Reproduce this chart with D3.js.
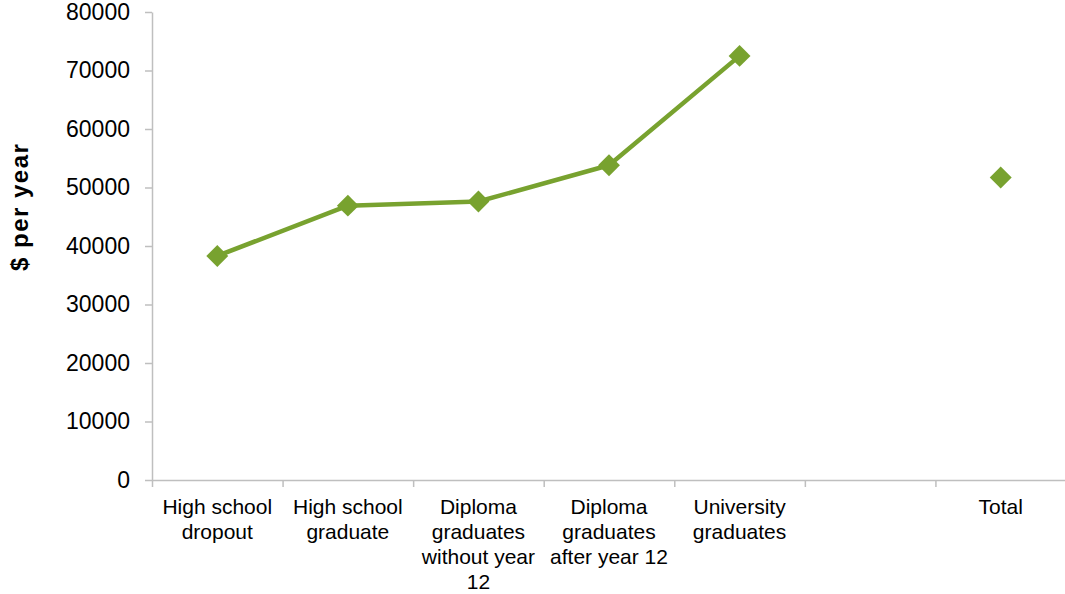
<!DOCTYPE html>
<html>
<head>
<meta charset="utf-8">
<script src="https://cdn.jsdelivr.net/npm/d3@7"></script>
<style>
  body { margin: 0; background: #fff; }
  text { font-family: "Liberation Sans", Arial, sans-serif; }
</style>
</head>
<body>
<svg id="chart" width="1065" height="594"></svg>
<script>
// data
const categories = [
  ['High school', 'dropout'],
  ['High school', 'graduate'],
  ['Diploma', 'graduates', 'without year', '12'],
  ['Diploma', 'graduates', 'after year 12'],
  ['University', 'graduates'],
  [],
  ['Total']
]
const values = [38300, 46900, 47600, 53800, 72500, null, 51700]
const yTicks = [0, 10000, 20000, 30000, 40000, 50000, 60000, 70000, 80000]

const svg = d3.select('#chart')
const margin = { top: 12, right: -1, bottom: 114, left: 152 }
const width = +svg.attr('width') - margin.left - margin.right
const height = +svg.attr('height') - margin.top - margin.bottom
const g = svg.append('g').attr('transform', 'translate(' + margin.left + ',' + margin.top + ')')

const green = '#78A22F'
const axisColor = '#BFBFBF'

const idx = d3.range(categories.length)
const x = d3.scaleBand().domain(idx).range([0, width])
const xEdge = d3.scaleLinear().domain([0, categories.length]).range([0, width])
const y = d3.scaleLinear().domain([0, 80000]).range([height, 0])

// y axis
const yAxis = g.append('g')
  .call(d3.axisLeft(y).tickValues(yTicks).tickFormat(d3.format('d')).tickSize(7).tickSizeOuter(0).tickPadding(15))
yAxis.selectAll('path, line').attr('stroke', axisColor).attr('stroke-width', 1.5)
yAxis.selectAll('text').attr('font-size', 23).attr('fill', '#000')
  .style('font-family', '"Liberation Sans", Arial, sans-serif')

// x axis: ticks on category boundaries
const xAxis = g.append('g').attr('transform', `translate(0, ${height})`)
  .call(d3.axisBottom(xEdge).tickValues(d3.range(categories.length + 1)).tickFormat('').tickSize(7).tickSizeOuter(0))
xAxis.selectAll('path, line').attr('stroke', axisColor).attr('stroke-width', 1.5)

// category labels, wrapped as in the reference
const labels = g.append('g').attr('transform', `translate(0, ${height})`)
labels.selectAll('text')
  .data(idx)
  .join('text')
  .attr('x', (i) => x(i) + x.bandwidth() / 2)
  .attr('y', 34)
  .attr('text-anchor', 'middle')
  .attr('font-size', 21)
  .attr('fill', '#000')
  .selectAll('tspan')
  .data((i) => categories[i].map((t) => ({ t, i })))
  .join('tspan')
  .attr('x', (d) => x(d.i) + x.bandwidth() / 2)
  .attr('dy', (d, k) => (k === 0 ? 0 : 25))
  .text((d) => d.t)

// y axis title
g.append('text')
  .attr('transform', `translate(${-124}, ${y(46700)}) rotate(-90)`)
  .attr('text-anchor', 'middle')
  .attr('font-size', 24)
  .attr('font-weight', 'bold')
  .attr('letter-spacing', 1.5)
  .attr('fill', '#000')
  .text('$ per year')

// line
const pts = idx.map((i) => ({ i, v: values[i] }))
g.append('path')
  .datum(pts)
  .attr('fill', 'none')
  .attr('stroke', green)
  .attr('stroke-width', 4.5)
  .attr('stroke-linejoin', 'round')
  .attr('d', d3.line()
    .defined((d) => d.v !== null)
    .x((d) => x(d.i) + x.bandwidth() / 2)
    .y((d) => y(d.v)))

// diamond markers
g.selectAll('.marker')
  .data(pts.filter((d) => d.v !== null))
  .join('path')
  .attr('class', 'marker')
  .attr('d', d3.symbol().type(d3.symbolSquare).size(240))
  .attr('transform', (d) => `translate(${x(d.i) + x.bandwidth() / 2}, ${y(d.v)}) rotate(45)`)
  .attr('fill', green)
</script>
</body>
</html>
